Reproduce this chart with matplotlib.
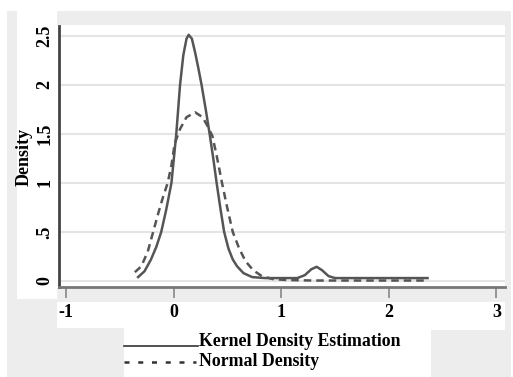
import matplotlib.pyplot as plt
from matplotlib.patches import Rectangle
from matplotlib.lines import Line2D

# kernel density estimate
kde_x = [-0.33, -0.27, -0.21, -0.16, -0.115, -0.07, -0.02, 0.025, 0.06, 0.09, 0.12, 0.14,
         0.17, 0.20, 0.23, 0.26, 0.30, 0.335, 0.37, 0.40, 0.435, 0.47, 0.51, 0.55, 0.59,
         0.65, 0.73, 0.85, 1.0, 1.15, 1.22, 1.28, 1.33, 1.38, 1.44, 1.50, 1.8, 2.1, 2.36]
kde_y = [0.04, 0.10, 0.22, 0.35, 0.50, 0.72, 1.0, 1.5, 2.0, 2.3, 2.47, 2.51,
         2.47, 2.33, 2.17, 2.0, 1.74, 1.5, 1.24, 1.0, 0.74, 0.5, 0.33, 0.22, 0.15,
         0.08, 0.04, 0.03, 0.03, 0.03, 0.06, 0.12, 0.145, 0.11, 0.05, 0.03, 0.03, 0.03, 0.03]

# normal density
norm_x = [-0.36, -0.30, -0.24, -0.19, -0.14, -0.10, -0.055, -0.02, 0.01, 0.06, 0.12, 0.20,
          0.27, 0.32, 0.36, 0.40, 0.45, 0.50, 0.55, 0.61, 0.67, 0.74, 0.82, 0.92, 1.05,
          1.3, 1.6, 2.0, 2.36]
norm_y = [0.09, 0.15, 0.30, 0.50, 0.70, 0.85, 1.0, 1.18, 1.40, 1.55, 1.67, 1.72,
          1.67, 1.57, 1.48, 1.28, 1.0, 0.74, 0.50, 0.33, 0.20, 0.11, 0.05, 0.02, 0.01,
          0.005, 0.005, 0.005, 0.005]

xticks = [-1, 0, 1, 2, 3]
yticks = [0, 0.5, 1, 1.5, 2, 2.5]
ytick_labels = ['0', '.5', '1', '1.5', '2', '2.5']

W, H = 513, 377
grey = '#ededed'
line_col = '#555555'
serif = 'Liberation Serif'


def px(x0, y0, x1, y1):
    # pixel box (top-down y) -> figure fraction rectangle
    return Rectangle((x0 / W, 1 - y1 / H), (x1 - x0) / W, (y1 - y0) / H,
                     transform=fig.transFigure, facecolor=grey, edgecolor='none', zorder=-10)


fig = plt.figure(figsize=(W / 100, H / 100), dpi=100)
fig.patch.set_facecolor('white')

for box in [(7, 11, 17, 377), (17, 299, 57, 377), (57, 328, 124, 377), (431, 330, 511, 377),
            (505, 11, 511, 330), (57, 11, 505, 25), (57, 288, 505, 302)]:
    fig.patches.append(px(*box))

ax = fig.add_axes([59 / W, (H - 287) / H, (505 - 59) / W, (287 - 26) / H])
ax.set_facecolor('white')

ax.plot(kde_x, kde_y, color=line_col, lw=1.8, solid_joinstyle='round')
ax.plot(norm_x, norm_y, color=line_col, lw=1.8, dashes=(3, 2))

ax.set_xlim(-1.065, 3.08)
ax.set_ylim(-0.061, 2.60)

ax.set_yticks(yticks)
ax.set_yticklabels(ytick_labels, rotation=90, va='center', family=serif, weight='bold', fontsize=13)
ax.set_xticks(xticks)
ax.set_xticklabels([str(t) for t in xticks], family=serif, weight='bold', fontsize=13)

ax.grid(axis='y', color='#e4e4e4', lw=1.5)
ax.set_axisbelow(True)

ax.tick_params(axis='x', length=8, width=1.2, color='#888888', pad=4)
ax.tick_params(axis='y', length=0, pad=4)

for side in ['top', 'right']:
    ax.spines[side].set_visible(False)
ax.spines['left'].set_color('#444444')
ax.spines['left'].set_linewidth(2)
ax.spines['bottom'].set_color('#777777')
ax.spines['bottom'].set_linewidth(2)

ax.set_ylabel('Density', family=serif, weight='bold', fontsize=13)
ax.yaxis.set_label_coords(-0.06, 0.5)

# legend drawn below the axis
fig.add_artist(Line2D([124 / W, 198 / W], [1 - 346 / H, 1 - 346 / H], color='#333333', lw=1.2))
fig.add_artist(Line2D([124 / W, 196 / W], [1 - 362 / H, 1 - 362 / H], color='#333333', lw=1.8,
                      dashes=(2, 3.5)))
fig.text(199 / W, 1 - 341 / H, 'Kernel Density Estimation', family=serif, weight='bold',
         fontsize=12.8, va='center', ha='left')
fig.text(199 / W, 1 - 361 / H, 'Normal Density', family=serif, weight='bold',
         fontsize=12.8, va='center', ha='left')

fig.savefig('out.png', dpi=100)
